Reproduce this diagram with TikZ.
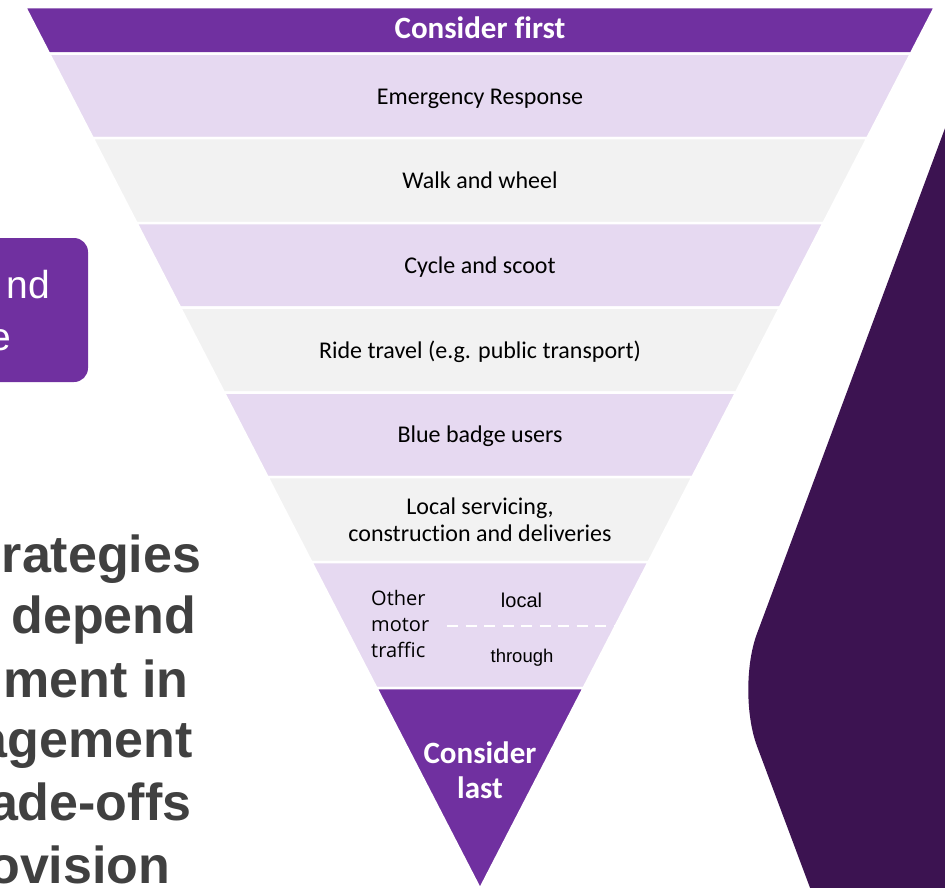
\documentclass[tikz,border=0pt]{standalone}
\usepackage{fontspec}
\setmainfont{Carlito}[Ligatures=NoCommon]
\newfontfamily\arialfont{Liberation Sans}
\newfontfamily\segoefont{Open Sans}
\definecolor{hpurple}{HTML}{7030A0}
\definecolor{hlilac}{HTML}{E6D9F1}
\definecolor{hgrey}{HTML}{F2F2F2}
\definecolor{hdark}{HTML}{3C1351}
\definecolor{htext}{HTML}{404040}
\begin{document}
\begin{tikzpicture}[x=1pt,y=-1pt,line join=round,
	band/.style={fill=#1,draw=white,line width=2.5pt},
	lbl/.style={font=\fontsize{24}{27}\selectfont,text=black,align=center,inner sep=0pt},
	head/.style={font=\fontsize{31}{35}\selectfont\bfseries,text=white,align=center,inner sep=0pt},
	big/.style={font=\arialfont\fontsize{52}{62}\selectfont\bfseries,text=htext,anchor=base east,inner sep=0pt}]
	\useasboundingbox (0,0) rectangle (945,887);
	% dark chevron on the right
	\fill[hdark,rounded corners=60] (1050,-154) -- (736,690) -- (852,1000) -- (1050,1000) -- cycle;
	% purple box on the left
	\fill[hpurple,rounded corners=14] (-40,238) rectangle (88,382);
	\node[font=\arialfont\fontsize{39}{52}\selectfont,text=white,anchor=base east,inner sep=0pt] (box1) at (50,298) {nd};
	\node[font=\arialfont\fontsize{39}{52}\selectfont,text=white,anchor=base east,inner sep=0pt] (box2) at (11.5,350) {e};
	% bold text block
	\node[big] (t1) at (201.5,572) {rategies};
	\node[big] (t2) at (196.5,633) {depend};
	\node[big] (t3) at (188.5,697) {ment in};
	\node[big] (t4) at (193,757) {agement};
	\node[big] (t5) at (191.5,820) {ade-offs};
	\node[big] (t6) at (170.5,883) {ovision};
	% hierarchy bands, top edge at y=7, apex at y=889
	\foreach \t/\b/\c in {7/53.5/hpurple,53.5/138/hlilac,138/223/hgrey,223/307.5/hlilac,
		307.5/392.5/hgrey,392.5/477/hlilac,477/562/hgrey,562/688/hlilac}{
		\pgfmathsetmacro\wt{0.51587*(889-\t)}
		\pgfmathsetmacro\wb{0.51587*(889-\b)}
		\filldraw[band=\c] (480-\wt,\t) -- (480+\wt,\t) -- (480+\wb,\b) -- (480-\wb,\b) -- cycle;
	}
	\filldraw[band=hpurple] (376.3,688) -- (583.7,688) -- (480,889) -- cycle;
	% labels
	\node[head,anchor=base] (first) at (480,38) {Consider first};
	\node[lbl,anchor=base] (emerg) at (480,104) {Emergency Response};
	\node[lbl,anchor=base] (walk) at (480,188) {Walk and wheel};
	\node[lbl,anchor=base] (cycle) at (480,273) {Cycle and scoot};
	\node[lbl,anchor=base] (ride) at (480,358) {Ride travel (e.g. public transport)};
	\node[lbl,anchor=base] (badge) at (480,442) {Blue badge users};
	\node[lbl] (servicing) at (480,519.5) {Local servicing,\\construction and deliveries};
	\node[font=\segoefont\fontsize{20}{26}\selectfont,align=left,anchor=west,inner sep=0pt] (motor) at (371,623.5) {Other\\motor\\traffic};
	\node[font=\arialfont\fontsize{20}{24}\selectfont,anchor=base,inner sep=0pt] (local) at (521.5,607) {local};
	\node[font=\arialfont\fontsize{18.5}{22}\selectfont,anchor=base,inner sep=0pt] (through) at (522,662) {through};
	\coordinate (d1) at (447,626);
	\coordinate (d2) at (615.5,626);
	\draw[white,line width=2pt,dash pattern=on 11pt off 7.5pt] (d1) -- (d2);
	\node[head] (last) at (480,770) {Consider\\last};
\end{tikzpicture}
\end{document}
